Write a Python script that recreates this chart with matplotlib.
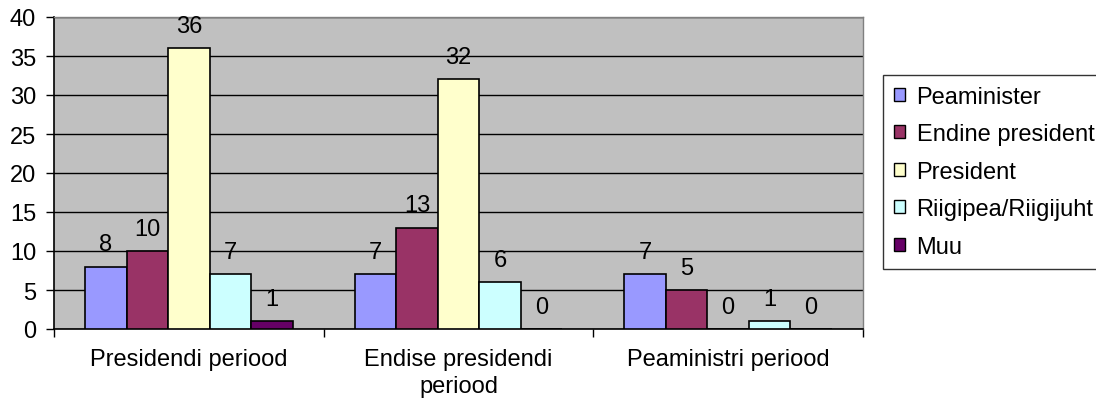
import matplotlib
matplotlib.use("Agg")
import matplotlib.pyplot as plt
import numpy as np

categories = ["Presidendi periood", "Endise presidendi\nperiood", "Peaministri periood"]
series_names = ["Peaminister", "Endine president", "President", "Riigipea/Riigijuht", "Muu"]
peaminister = [8, 7, 7]
endine_president = [10, 13, 5]
president = [36, 32, 0]
riigipea = [7, 6, 1]
muu = [1, 0, 0]
series_values = [peaminister, endine_president, president, riigipea, muu]
colors = ["#9999FF", "#993366", "#FFFFCC", "#CCFFFF", "#660066"]
yticks = list(range(0, 41, 5))

plt.rcParams['font.family'] = ['Liberation Sans', 'DejaVu Sans']
FS = 17

fig = plt.figure(figsize=(10.96, 4.06), dpi=100)
ax = fig.add_axes([54/1096, 76/406, (863-54)/1096, (330-18)/406])
ax.set_facecolor("#C0C0C0")

x = np.arange(len(categories))
n = len(series_names)
w = 1/6.5
handles = []
for i, (name, vals, c) in enumerate(zip(series_names, series_values, colors)):
    bc = ax.bar(x + (i - (n-1)/2)*w, vals, width=w, color=c, edgecolor="black",
                linewidth=1.2, label=name, zorder=3)
    ax.bar_label(bc, labels=[str(v) for v in vals], padding=8.0, fontsize=FS, zorder=4)
    handles.append(bc)

ax.set_xlim(-0.5, len(categories) - 0.5)
ax.set_ylim(0, 40)
ax.set_yticks(yticks)
ax.set_yticklabels([str(t) for t in yticks], fontsize=FS)
ax.yaxis.grid(True, color="black", linewidth=1, zorder=1)
ax.set_axisbelow(True)

ax.set_xticks(x)
ax.set_xticklabels(categories, fontsize=FS, linespacing=1.25)
ax.set_xticks(np.arange(-0.5, len(categories), 1.0), minor=True)
ax.tick_params(axis="x", which="major", length=0, pad=14.0)
ax.tick_params(axis="x", which="minor", length=5.5, width=1, color="black", direction="out")
ax.tick_params(axis="y", length=5.8, width=1, pad=7.0, direction="out")

for s in ["left", "bottom"]:
    ax.spines[s].set_color("black")
    ax.spines[s].set_linewidth(1.2)
for s in ["top", "right"]:
    ax.spines[s].set_color("#808080")
    ax.spines[s].set_linewidth(1)

leg = fig.legend(handles=handles, labels=series_names, loc="upper left",
                 bbox_to_anchor=(883/1096, 1 - 76/406), bbox_transform=fig.transFigure,
                 fontsize=FS, frameon=True, fancybox=False, shadow=False,
                 borderaxespad=0, borderpad=0.45, handlelength=0.47, handleheight=0.47,
                 handletextpad=0.5, labelspacing=0.66)
leg.get_frame().set_edgecolor("black")
leg.get_frame().set_linewidth(1)
leg.get_frame().set_facecolor("white")
for p in leg.get_patches():
    p.set_edgecolor("black")
    p.set_linewidth(1)

fig.savefig("out.png", dpi=100)
